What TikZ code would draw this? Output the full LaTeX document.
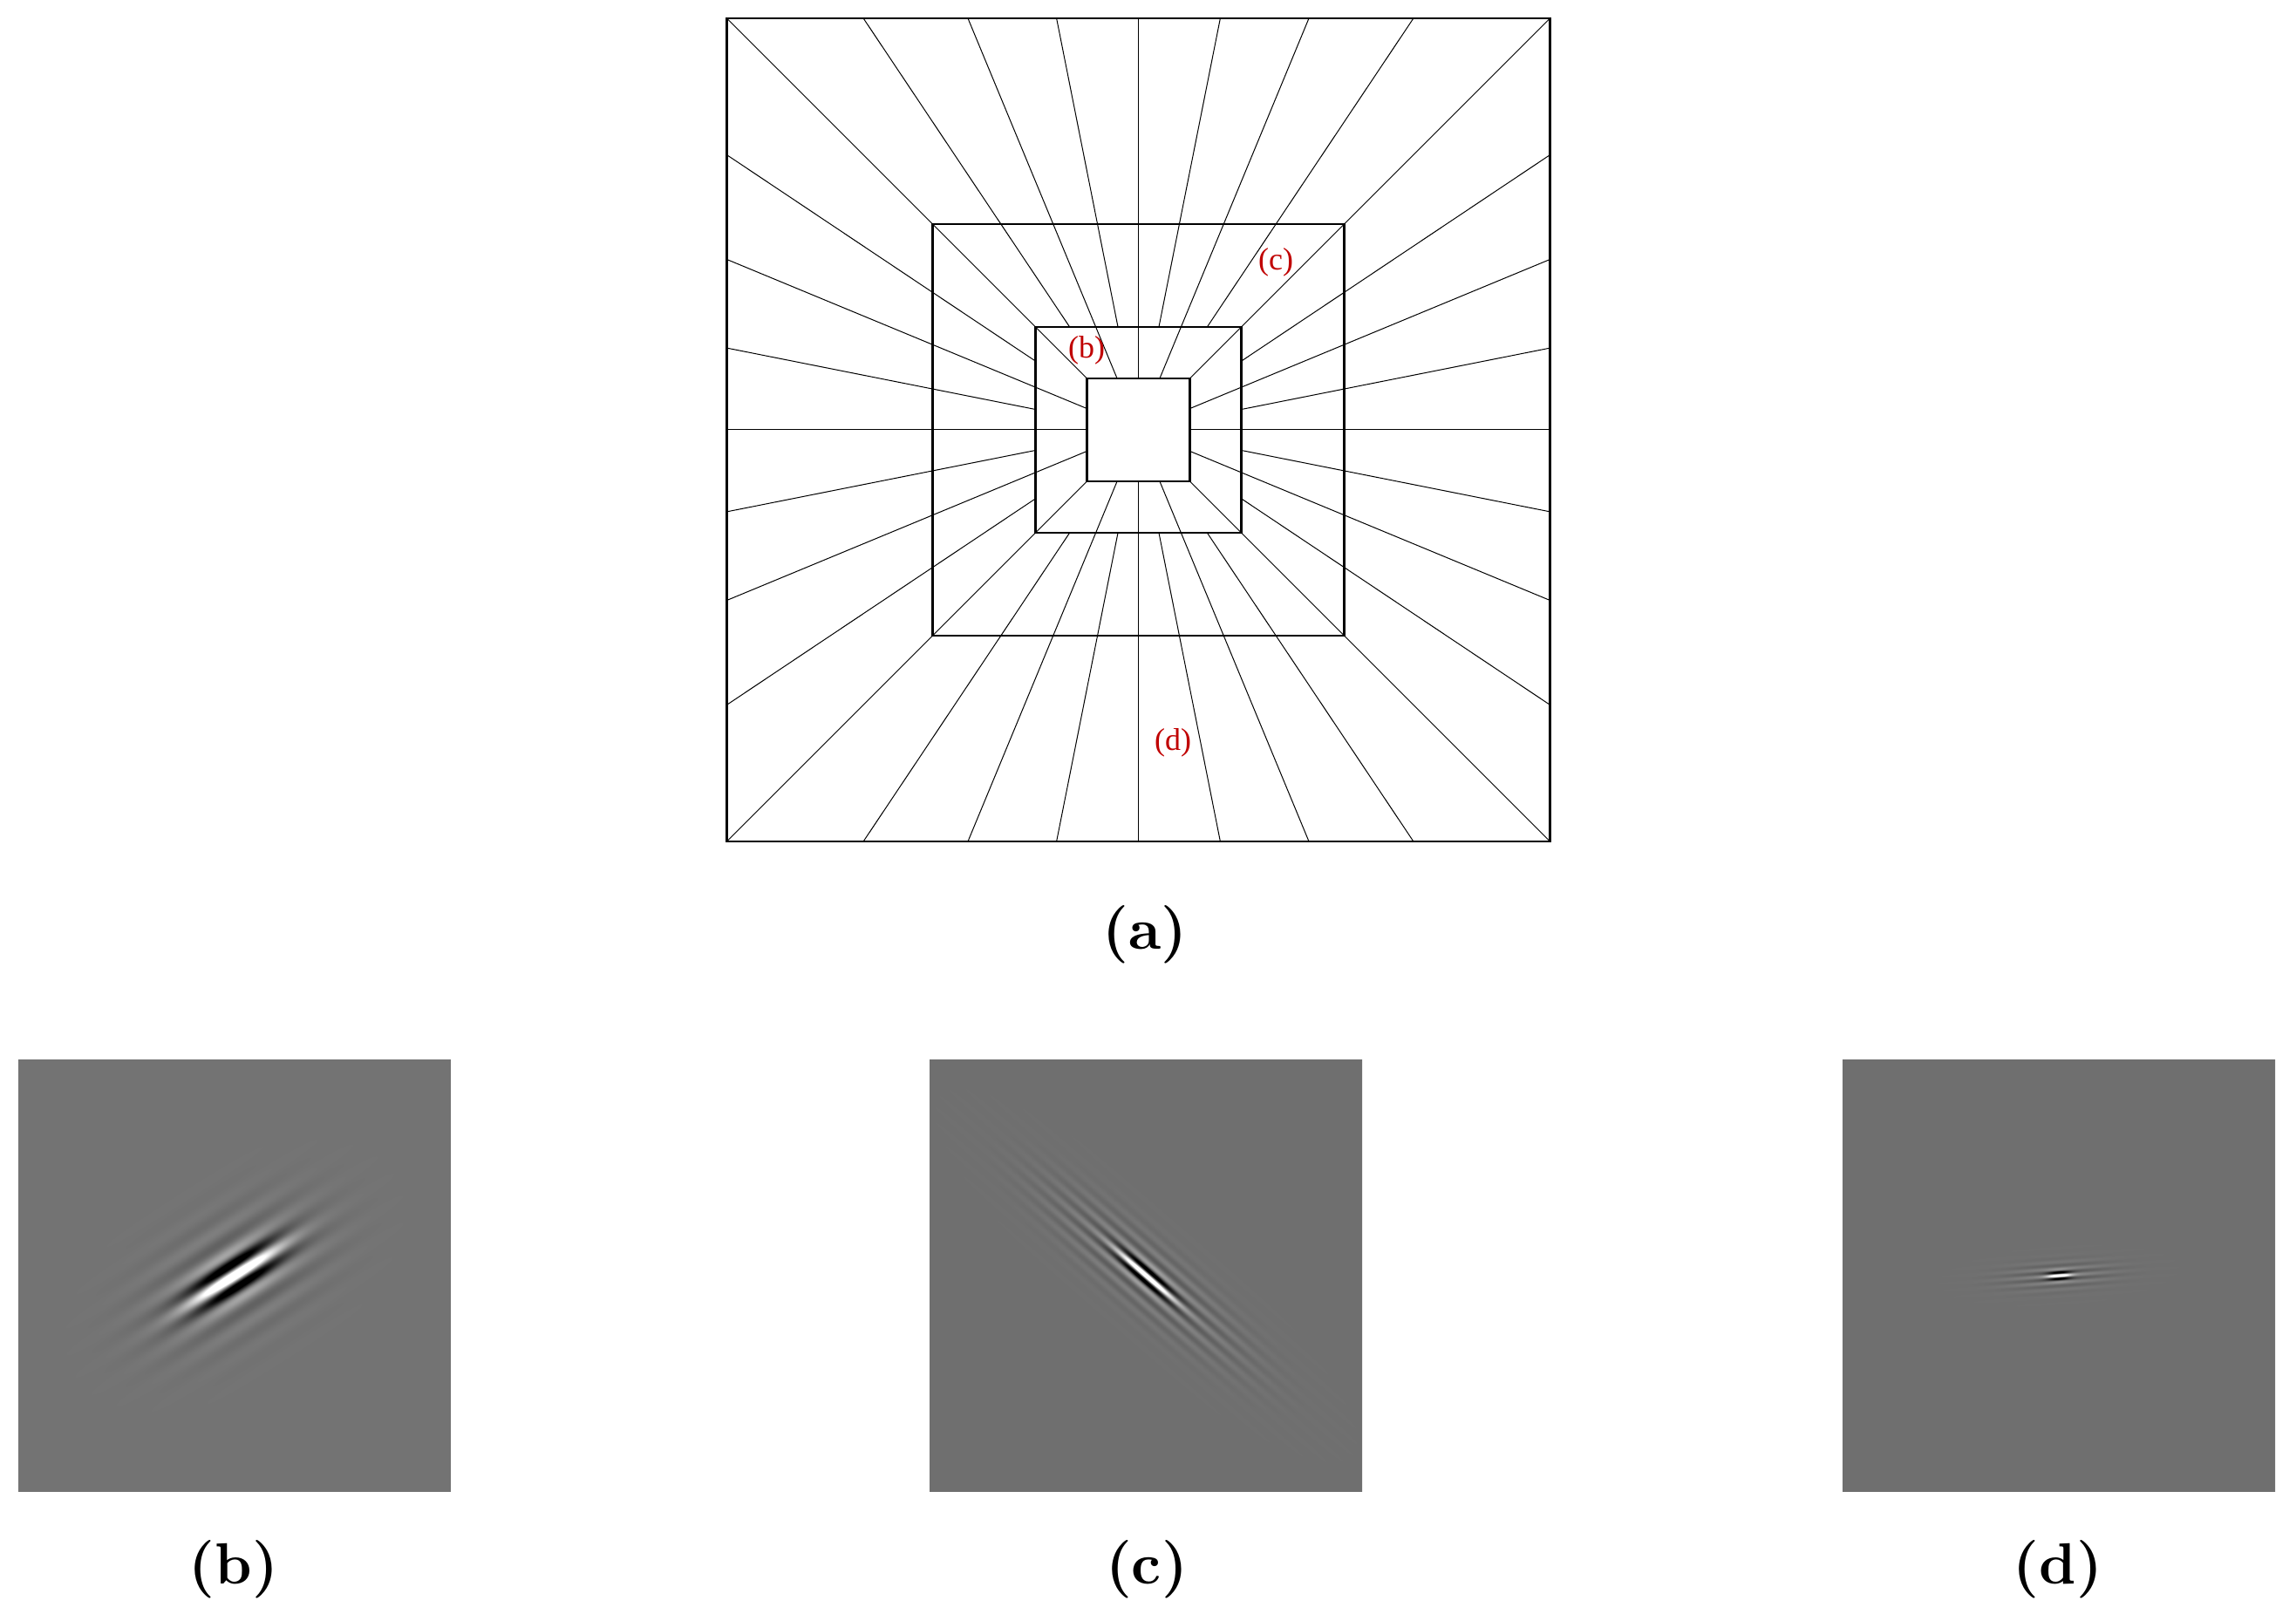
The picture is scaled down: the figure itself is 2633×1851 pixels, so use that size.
\documentclass[tikz,border=0pt]{standalone}
\usepackage{fontspec}
\newfontfamily\labelfont{Liberation Serif}
\definecolor{labelred}{RGB}{192,0,0}

% directional atoms, coordinates converted from bp to pixels of the figure
\pgfdeclarefunctionalshading{gaborb}{\pgfpoint{-37.07bp}{-37.07bp}}{\pgfpoint{37.07bp}{37.07bp}}{}{
  6.6916 mul exch 6.6916 mul exch
  2 copy 0.5373 mul exch 0.8434 mul add
  3 1 roll 0.8434 mul exch 0.5373 mul sub
  dup 13.333 mul cos
  3 1 roll dup mul exch dup mul
  2 copy 0.000346 mul exch 0.00296 mul add neg 2.71828 exch exp
  3 1 roll 0.0001 mul exch 0.00031 mul add neg 2.71828 exch exp
  0.12 mul add mul
  0.85 mul 0.452 add
  dup abs add 2 div
  dup 1 sub abs neg add 1 add 2 div
  dup dup
}
\pgfdeclarefunctionalshading{gaborc}{\pgfpoint{-37.07bp}{-37.07bp}}{\pgfpoint{37.07bp}{37.07bp}}{}{
  6.6916 mul exch 6.6916 mul exch
  2 copy -0.6561 mul exch 0.7547 mul add
  3 1 roll 0.7547 mul exch -0.6561 mul sub
  dup 27.69 mul cos
  3 1 roll dup mul exch dup mul
  2 copy 0.000638 mul exch 0.0139 mul add neg 2.71828 exch exp
  3 1 roll 0.0000617 mul exch 0.00103 mul add neg 2.71828 exch exp
  0.15 mul add mul
  0.75 mul 0.437 add
  dup abs add 2 div
  dup 1 sub abs neg add 1 add 2 div
  dup dup
}
\pgfdeclarefunctionalshading{gabord}{\pgfpoint{-37.07bp}{-37.07bp}}{\pgfpoint{37.07bp}{37.07bp}}{}{
  6.6916 mul exch 6.6916 mul exch
  2 copy 0.0698 mul exch 0.9976 mul add
  3 1 roll 0.9976 mul exch 0.0698 mul sub
  dup 45 mul cos
  3 1 roll dup mul exch dup mul
  2 copy 0.00617 mul exch 0.0408 mul add neg 2.71828 exch exp
  3 1 roll 0.0003125 mul exch 0.005 mul add neg 2.71828 exch exp
  0.12 mul add mul
  0.8 mul 0.437 add
  dup abs add 2 div
  dup 1 sub abs neg add 1 add 2 div
  dup dup
}

\begin{document}
\begin{tikzpicture}[x=0.15pt,y=-0.15pt,
  ray/.style={line width=0.15pt},
  box/.style={line width=0.4pt},
  redlabel/.style={text=labelred,font=\labelfont\fontsize{5.4}{6}\selectfont,inner sep=0pt},
  caption/.style={font=\fontsize{10}{12}\selectfont\bfseries,inner sep=0pt},
  panel/.style={inner sep=0pt,outer sep=0pt}]
  \useasboundingbox (0,0) rectangle (2633,1851);
  % frequency tiling
  \begin{scope}[shift={(1305.5,493)}]
    \foreach \k in {0,...,31}{
      \pgfmathsetmacro\ang{\k*11.25}
      \pgfmathsetmacro\f{1/max(abs(cos(\ang)),abs(sin(\ang)))}
      \pgfmathsetmacro\rin{ifthenelse(mod(\k,2)==1,118,59)*\f}
      \pgfmathsetmacro\rout{472*\f}
      \draw[ray] (\ang:\rin) -- (\ang:\rout);
    }
    \foreach \h in {472,236,118,59}
      \draw[box] (-\h,-\h) rectangle (\h,\h);
  \end{scope}
  \node[redlabel] (lb) at (1246,402) {(b)};
  \node[redlabel] (lc) at (1463,301) {(c)};
  \node[redlabel] (ld) at (1345,852) {(d)};
  \node[caption] (ca) at (1313,1072) {(a)};
  % atoms
  \node[panel] (pb) at (268.7,1462.5) {\pgfuseshading{gaborb}};
  \node[panel] (pc) at (1314,1462.5) {\pgfuseshading{gaborc}};
  \node[panel] (pd) at (2361,1462.5) {\pgfuseshading{gabord}};
  \node[caption] (cb) at (268,1800) {(b)};
  \node[caption] (cc) at (1315,1800) {(c)};
  \node[caption] (cd) at (2360,1800) {(d)};
\end{tikzpicture}
\end{document}
